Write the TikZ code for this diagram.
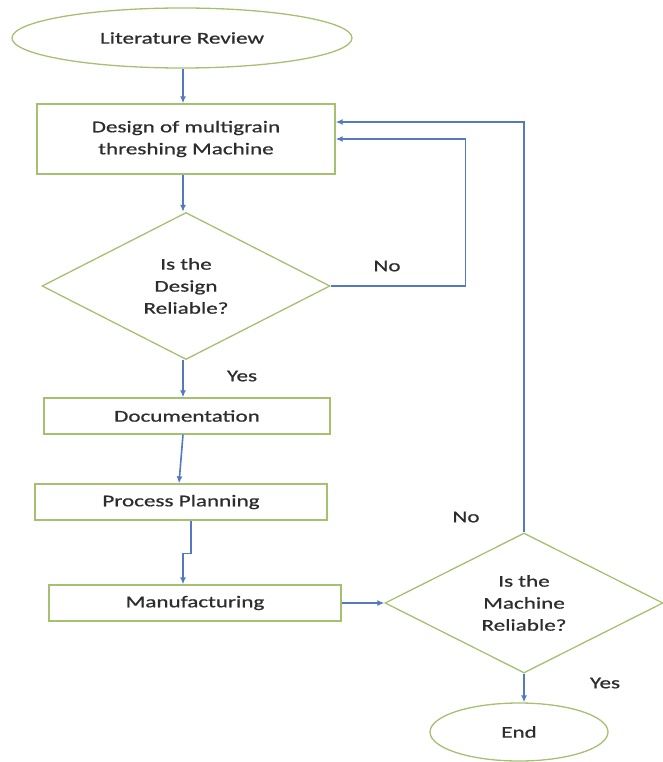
\documentclass[tikz,border=0pt]{standalone}
\usepackage{fontspec}
\setmainfont{Carlito}[FakeStretch=1.4,FakeBold=0.8]
\usetikzlibrary{shapes.geometric,arrows.meta}

\definecolor{lineblue}{RGB}{84,121,190}
\definecolor{boxgreen}{RGB}{165,192,112}
\definecolor{txtgray}{RGB}{45,45,45}

\begin{document}
\begin{tikzpicture}[x=1pt,y=-1pt,
  font=\fontsize{16.5}{22}\selectfont, text=txtgray,
  term/.style={ellipse, draw=boxgreen, line width=1.3pt, inner sep=0pt},
  proc/.style={rectangle, draw=boxgreen, line width=1.3pt, inner sep=0pt, align=center},
  test/.style={diamond, draw=boxgreen, line width=1.3pt, inner sep=0pt, aspect=2, align=center},
  arr/.style={draw=lineblue, line width=1.6pt, -{Latex[length=7pt,width=6pt]}}]

\useasboundingbox (0,0) rectangle (663,762);

\node[term, minimum width=340pt, minimum height=60pt] (lit) at (182,38) {Literature Review};
\node[proc, minimum width=298pt, minimum height=70pt] (des) at (186,139) {Design of multigrain\\threshing Machine};
\node[test, minimum width=288pt, minimum height=147pt] (dq) at (186,286) {Is the\\Design\\Reliable?};
\node[proc, minimum width=286pt, minimum height=36pt] (doc) at (187,416) {Documentation};
\node[proc, minimum width=292pt, minimum height=36pt] (plan) at (181,502) {Process Planning};
\node[proc, minimum width=292pt, minimum height=36pt] (manu) at (195,603) {Manufacturing};
\node[test, minimum width=278pt, minimum height=140pt] (mq) at (524,603) {Is the\\Machine\\Reliable?};
\node[term, minimum width=178pt, minimum height=58pt] (end) at (519,732) {End};

\node (no1) at (387,266) {No};
\node (yes1) at (242,376) {Yes};
\node (no2) at (466,517) {No};
\node (yes2) at (605,683) {Yes};

\draw[arr] ([xshift=1pt]lit.south) -- ([xshift=1pt]lit.south |- des.north);
\draw[arr] ([xshift=-3pt]des.south) -- ([xshift=-3pt]des.south |- dq.north);
\draw[arr] (dq.east) -- ++(135,0) |- (des.east);
\draw[arr] ([xshift=-3pt]dq.south) -- ([xshift=-3pt]dq.south |- doc.north);
\draw[arr] ([xshift=-4pt]doc.south) -- ([xshift=-2pt]plan.north);
\draw[arr] ([xshift=10pt]plan.south) -- ++(0,33) -| ([xshift=-12pt]manu.north);
\draw[arr] (manu.east) -- (mq.west);
\draw[arr] (mq.north) |- ([yshift=17pt]des.east);
\draw[arr] (mq.south) -- (mq.south |- end.north);

\end{tikzpicture}
\end{document}
